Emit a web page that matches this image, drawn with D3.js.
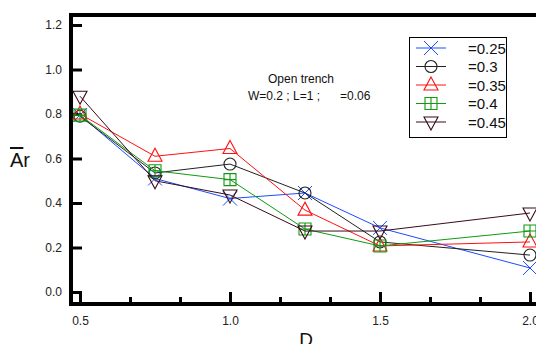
<!DOCTYPE html>
<html><head><meta charset="utf-8">
<script src="https://cdn.jsdelivr.net/npm/d3@7"></script>
<style>body{margin:0;background:#fff}svg{display:block}text{font-family:"Liberation Sans",Arial,sans-serif}</style>
</head><body>
<script>
const xValues = [0.5, 0.75, 1.0, 1.25, 1.5, 2.0];
const seriesNames = ["=0.25", "=0.3", "=0.35", "=0.4", "=0.45"];
const s025 = [0.795, 0.51, 0.42, 0.445, 0.288, 0.108];
const s030 = [0.79, 0.535, 0.575, 0.445, 0.225, 0.166];
const s035 = [0.80, 0.61, 0.645, 0.368, 0.207, 0.225];
const s040 = [0.795, 0.545, 0.505, 0.283, 0.207, 0.274];
const s045 = [0.88, 0.50, 0.436, 0.274, 0.274, 0.355];
const yTicks = [0.0, 0.2, 0.4, 0.6, 0.8, 1.0, 1.2];
const xTicks = [0.5, 1.0, 1.5, 2.0];
const xMinorTicks = [0.5 + 1/6, 0.5 + 2/6, 1 + 1/6, 1 + 2/6, 1.5 + 1/6, 1.5 + 2/6];
const colors = ["#1a4cff", "#222222", "#ff1010", "#109a10", "#3a0a1a"];
const symbols = ["x", "circle", "tri", "square", "itri"];
const allSeries = [s025, s030, s035, s040, s045];

(function () {
const W = 536, H = 344;
const svg = d3.select("body").append("svg").attr("width", W).attr("height", H);
const x = d3.scaleLinear().domain([0.5, 2.0]).range([80, 530]);
const y = d3.scaleLinear().domain([0, 1.2]).range([292, 25]);
const pLeft = 71, pBottom = 304, pTop = 15, pRight = 545;

const xAx = d3.axisBottom(x).tickValues(xTicks).tickSize(-12).tickPadding(10).tickFormat(d3.format(".1f"));
const gx = svg.append("g").attr("transform", `translate(0,${pBottom})`).call(xAx);
gx.select(".domain").remove();
gx.selectAll("line").attr("stroke", "#000").attr("stroke-width", 3);
gx.selectAll("text").attr("font-size", 12).attr("fill", "#222").attr("dy", "0.9em");
const xMin = d3.axisBottom(x).tickValues(xMinorTicks).tickSize(-7).tickFormat("");
const gxm = svg.append("g").attr("transform", `translate(0,${pBottom})`).call(xMin);
gxm.select(".domain").remove();
gxm.selectAll("line").attr("stroke", "#000").attr("stroke-width", 3);

const yAx = d3.axisLeft(y).tickValues(yTicks).tickSize(-11).tickPadding(9).tickFormat(d3.format(".1f"));
const gy = svg.append("g").attr("transform", `translate(${pLeft},0)`).call(yAx);
gy.select(".domain").remove();
gy.selectAll("line").attr("stroke", "#000").attr("stroke-width", 3);
gy.selectAll("text").attr("font-size", 12).attr("fill", "#222");

svg.append("path").attr("d", `M${pRight},${pTop}H${pLeft}V${pBottom}H${pRight}`)
  .attr("fill", "none").attr("stroke", "#000").attr("stroke-width", 4);

function drawMarker(g, type, color, cx, cy) {
  const s = 7;
  if (type === "x") {
    g.append("path").attr("d", `M${cx-s},${cy-s}L${cx+s},${cy+s}M${cx-s},${cy+s}L${cx+s},${cy-s}`)
      .attr("stroke", color).attr("stroke-width", 1).attr("fill", "none");
  } else if (type === "circle") {
    g.append("circle").attr("cx", cx).attr("cy", cy).attr("r", 6)
      .attr("stroke", color).attr("fill", "none").attr("stroke-width", 1.1);
  } else if (type === "tri") {
    g.append("path").attr("d", `M${cx},${cy-8}L${cx+7},${cy+5}L${cx-7},${cy+5}Z`)
      .attr("stroke", color).attr("fill", "none").attr("stroke-width", 1.1);
  } else if (type === "itri") {
    g.append("path").attr("d", `M${cx},${cy+8}L${cx+7},${cy-5}L${cx-7},${cy-5}Z`)
      .attr("stroke", color).attr("fill", "none").attr("stroke-width", 1.1);
  } else if (type === "square") {
    g.append("path").attr("d", `M${cx-6},${cy-6}h12v12h-12ZM${cx},${cy-6}v12M${cx-6},${cy}h12`)
      .attr("stroke", color).attr("fill", "none").attr("stroke-width", 1.1);
  }
}
const line = d3.line().x((d, i) => x(xValues[i])).y(d => y(d));
allSeries.forEach((vals, k) => {
  const g = svg.append("g");
  g.append("path").datum(vals).attr("d", line).attr("fill", "none").attr("stroke", colors[k]).attr("stroke-width", 1);
  vals.forEach((v, i) => drawMarker(g, symbols[k], colors[k], x(xValues[i]), y(v)));
});

const lg = svg.append("g");
lg.append("rect").attr("x", 409.5).attr("y", 37.5).attr("width", 97).attr("height", 100)
  .attr("fill", "#fff").attr("stroke", "#000").attr("stroke-width", 1);
seriesNames.forEach((n, k) => {
  const ly = 48 + k * 18.5;
  lg.append("line").attr("x1", 416).attr("x2", 446).attr("y1", ly).attr("y2", ly).attr("stroke", colors[k]);
  drawMarker(lg, symbols[k], colors[k], 431, ly);
  lg.append("text").attr("x", 468).attr("y", ly + 5.5).attr("font-size", 15).attr("fill", "#111").text(n);
});

svg.append("text").attr("x", 301).attr("y", 83).attr("text-anchor", "middle").attr("font-size", 12).attr("fill", "#111").text("Open trench");
svg.append("text").attr("x", 248).attr("y", 100).attr("font-size", 12).attr("fill", "#111").attr("xml:space", "preserve").text("W=0.2 ; L=1 ;      =0.06");

const yt = svg.append("text").attr("x", 10).attr("y", 167).attr("font-size", 20).attr("fill", "#111");
yt.append("tspan").attr("text-decoration", "overline").text("A");
yt.append("tspan").text("r");
svg.append("text").attr("x", 306).attr("y", 346).attr("text-anchor", "middle").attr("font-size", 19).attr("fill", "#111").text("D");
})();
</script>
</body></html>
